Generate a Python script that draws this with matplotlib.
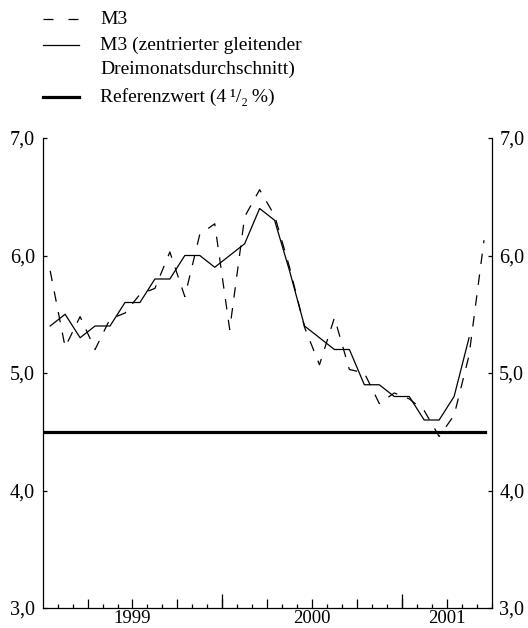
import numpy as np
import matplotlib
matplotlib.use('Agg')
import matplotlib.pyplot as plt
from matplotlib.lines import Line2D

plt.rcParams['font.family'] = ['Liberation Serif', 'DejaVu Serif']

# Monthly M3 growth, Jan 1999 - Jun 2001
m3 = [5.87, 5.22, 5.48, 5.20, 5.46, 5.51, 5.67, 5.72, 6.03, 5.65,
      6.18, 6.27, 5.37, 6.33, 6.56, 6.34, 5.90, 5.39, 5.07, 5.47,
      5.03, 5.00, 4.74, 4.83, 4.78, 4.68, 4.46, 4.64, 5.15, 6.13]
# centred three-month moving average, Jan 1999 - May 2001
m3_avg = [5.4, 5.5, 5.3, 5.4, 5.4, 5.6, 5.6, 5.8, 5.8, 6.0,
          6.0, 5.9, 6.0, 6.1, 6.4, 6.3, 5.87, 5.4, 5.3, 5.2,
          5.2, 4.9, 4.9, 4.8, 4.8, 4.6, 4.6, 4.8, 5.3]
ref_value = 4.5
y_ticks = [3.0, 4.0, 5.0, 6.0, 7.0]
years = ['1999', '2000', '2001']
year_centres = [6, 18, 27]   # months from Jan 1999

W, H = 528, 628
fig = plt.figure(figsize=(W / 100, H / 100), dpi=100)
ax = fig.add_axes([42.7 / W, 1 - 608 / H, (491.5 - 42.7) / W, (608 - 138) / H])

x = np.arange(len(m3)) + 0.5
ax.plot(x, m3, color='black', lw=0.9, dashes=(8.4, 8.4))
ax.plot(x[:len(m3_avg)], m3_avg, color='black', lw=0.9)
ax.plot([0, x[-1] + 0.07], [ref_value, ref_value], color='black', lw=2.3)

ax.set_xlim(0, 30)
ax.set_ylim(3, 7)
ax.spines['top'].set_visible(False)
for s in ax.spines.values():
    s.set_linewidth(0.9)

ax.set_yticks(y_ticks)
ax.set_yticklabels([f'{v:.1f}'.replace('.', ',') for v in y_ticks])
ax.tick_params(axis='y', direction='in', length=3, width=0.9, left=True, right=True,
               labelleft=True, labelright=True, labelsize=14.5, pad=5.5)

# month ticks: quarters medium, others short
ax.set_xticks(np.arange(3, 30, 3))
ax.set_xticks(np.arange(1, 31), minor=True)
ax.set_xticklabels([])
ax.tick_params(axis='x', which='major', direction='in', length=6.8, width=0.9)
ax.tick_params(axis='x', which='minor', direction='in', length=2.9, width=0.9)

# year boundaries: long ticks
sec = ax.secondary_xaxis('bottom')
sec.set_xticks([12, 24])
sec.set_xticklabels([])
sec.tick_params(direction='in', length=10, width=0.9)
sec.spines['bottom'].set_visible(False)

for lab, c in zip(years, year_centres):
    ax.annotate(lab, xy=(c, 0), xycoords=('data', 'figure fraction'),
                xytext=(0, 1), textcoords='offset points',
                ha='center', va='bottom', fontsize=13.5)

# legend drawn by hand
def fy(py):
    return 1 - py / H

legend_rows = [
    (19, 'M3', dict(lw=0.9, dashes=(8, 12))),
    (45, 'M3 (zentrierter gleitender\nDreimonatsdurchschnitt)', dict(lw=0.9)),
    (97, 'Referenzwert (4\u2009\u00b9/\u2082\u2009%)', dict(lw=2.3)),
]
for py, label, style in legend_rows:
    fig.add_artist(Line2D([43 / W, 79 / W], [fy(py), fy(py)], color='black',
                          transform=fig.transFigure, **style))
    fig.text(100 / W, fy(py - 8.5), label, ha='left', va='top', fontsize=14,
             linespacing=1.5)

fig.savefig('out.png', dpi=100)
